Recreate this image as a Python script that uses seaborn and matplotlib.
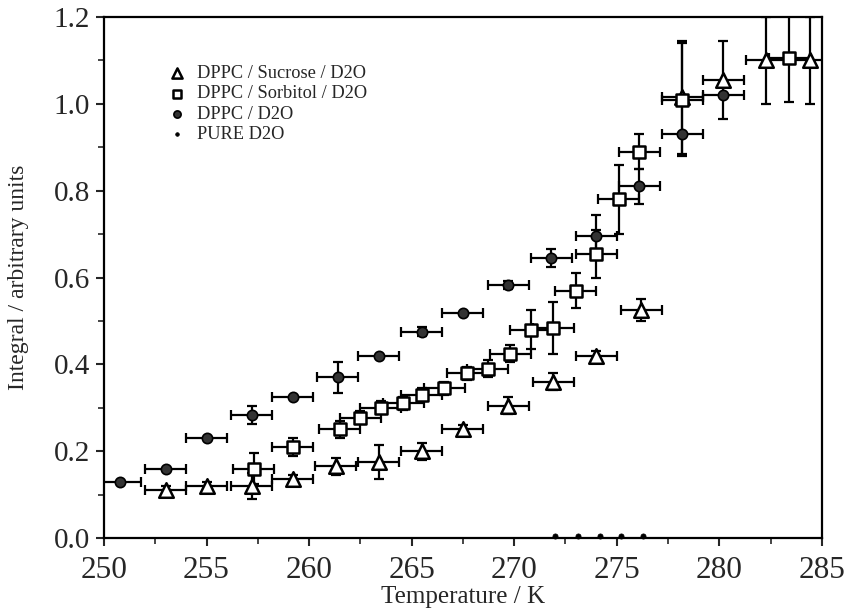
import numpy as np
import pandas as pd
import matplotlib
matplotlib.use("Agg")
import matplotlib.pyplot as plt
from matplotlib.ticker import MultipleLocator
import seaborn as sns

# ---- data ----
suc_T = [253.0, 255.0, 257.2, 259.2, 261.3, 263.4, 265.5, 267.5, 269.7, 271.9, 274.0, 276.2, 278.2, 280.2, 282.3, 284.4]
suc_I = [0.11, 0.12, 0.12, 0.135, 0.165, 0.175, 0.20, 0.25, 0.305, 0.36, 0.42, 0.525, 1.015, 1.055, 1.10, 1.10]
suc_err = [0.01, 0.01, 0.03, 0.01, 0.02, 0.04, 0.02, 0.01, 0.02, 0.02, 0.01, 0.025, 0.13, 0.09, 0.10, 0.10]

sor_T = [257.3, 259.2, 261.5, 262.5, 263.5, 264.6, 265.5, 266.6, 267.7, 268.7, 269.8, 270.8, 271.9, 273.0, 274.0, 275.1, 276.1, 278.2, 283.4]
sor_I = [0.16, 0.21, 0.25, 0.277, 0.30, 0.31, 0.33, 0.345, 0.38, 0.39, 0.425, 0.48, 0.483, 0.57, 0.655, 0.78, 0.89, 1.01, 1.105]
sor_err = [0.035, 0.02, 0.02, 0.015, 0.015, 0.015, 0.015, 0.015, 0.015, 0.02, 0.02, 0.045, 0.06, 0.04, 0.055, 0.08, 0.04, 0.13, 0.10]

dppc_T = [250.8, 253.0, 255.0, 257.2, 259.2, 261.4, 263.4, 265.5, 267.5, 269.7, 271.8, 274.0, 276.1, 278.2, 280.2]
dppc_I = [0.13, 0.16, 0.23, 0.283, 0.325, 0.37, 0.42, 0.475, 0.518, 0.583, 0.645, 0.695, 0.81, 0.93, 1.02]
dppc_err = [0.0, 0.0, 0.0, 0.02, 0.0, 0.035, 0.0, 0.01, 0.0, 0.01, 0.02, 0.05, 0.04, 0.0, 0.0]

d2o_T = [272.0, 273.1, 274.2, 275.2, 276.3]
d2o_I = [0.005, 0.005, 0.005, 0.005, 0.005]

temp_err = 1.0

labels = ["DPPC / Sucrose / D2O", "DPPC / Sorbitol / D2O", "DPPC / D2O", "PURE D2O"]
x_ticks = [250, 255, 260, 265, 270, 275, 280, 285]
y_ticks = [0.0, 0.2, 0.4, 0.6, 0.8, 1.0, 1.2]

sns.set_style("ticks")
plt.rcParams["font.family"] = ["Liberation Serif", "DejaVu Serif"]

fig = plt.figure(figsize=(8.49, 6.10), dpi=100)
ax = fig.add_axes([0.1225, 0.118, 0.8455, 0.854])

# error bars
for T, I, e in [(suc_T, suc_I, suc_err), (sor_T, sor_I, sor_err), (dppc_T, dppc_I, dppc_err)]:
    ax.errorbar(T, I, xerr=temp_err, yerr=e, fmt="none", ecolor="black",
                elinewidth=1.6, capsize=3.5, capthick=1.6, zorder=1)

df = pd.concat([
    pd.DataFrame({"T": suc_T, "I": suc_I, "s": labels[0]}),
    pd.DataFrame({"T": sor_T, "I": sor_I, "s": labels[1]}),
    pd.DataFrame({"T": dppc_T, "I": dppc_I, "s": labels[2]}),
    pd.DataFrame({"T": d2o_T, "I": d2o_I, "s": labels[3]}),
])

styles = {
    labels[0]: dict(marker="^", s=110, facecolor="white", edgecolor="black", lw=1.8),
    labels[1]: dict(marker="s", s=80, facecolor="white", edgecolor="black", lw=1.8),
    labels[2]: dict(marker="o", s=55, facecolor="#333333", edgecolor="black", lw=1.2),
    labels[3]: dict(marker="o", s=14, facecolor="black", edgecolor="black", lw=0.5),
}
for lab in labels:
    st = styles[lab]
    sns.scatterplot(data=df[df["s"] == lab], x="T", y="I", ax=ax, marker=st["marker"],
                    s=st["s"], color=st["facecolor"], edgecolor=st["edgecolor"],
                    linewidth=st["lw"], zorder=3, label=lab, clip_on=False)

ax.set_xlim(250, 285)
ax.set_ylim(0, 1.2)
ax.set_xticks(x_ticks)
ax.set_yticks(y_ticks)
ax.set_yticklabels([f"{v:.1f}" for v in y_ticks])
ax.xaxis.set_minor_locator(MultipleLocator(2.5))
ax.yaxis.set_minor_locator(MultipleLocator(0.1))
ax.tick_params(axis="both", which="major", direction="out", length=6, width=1.5)
ax.tick_params(axis="x", which="major", labelsize=22.5, pad=7)
ax.tick_params(axis="y", which="major", labelsize=21, pad=4)
ax.tick_params(axis="both", which="minor", direction="out", length=4, width=1.2)
for sp in ax.spines.values():
    sp.set_linewidth(1.6)
    sp.set_color("black")

ax.set_xlabel("Temperature / K", fontsize=18)
ax.xaxis.set_label_coords(0.5, -0.092)
ax.set_ylabel("Integral / arbitrary units", fontsize=17)
ax.yaxis.set_label_coords(-0.104, 0.5)

leg = ax.legend(loc="upper left", bbox_to_anchor=(0.079, 0.922), frameon=False,
                fontsize=13.2, handletextpad=0.6, labelspacing=0.18, borderaxespad=0,
                handlelength=1.0, markerscale=0.7)

fig.savefig("out.png", dpi=100)
